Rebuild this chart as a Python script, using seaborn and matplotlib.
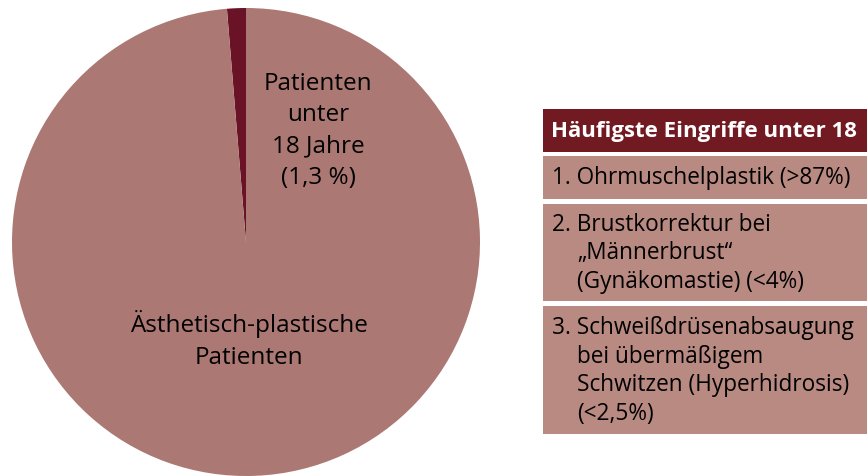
import matplotlib.pyplot as plt
import seaborn as sns
from matplotlib.patches import Rectangle

# data
slice_labels = ["Patienten\nunter\n18 Jahre\n(1,3 %)", "Ästhetisch-plastische\nPatienten"]
slice_values = [1.3, 98.7]
slice_colors = ["#6B1326", "#AB7874"]

box_title = "Häufigste Eingriffe unter 18"
box_items = [
    ["1. Ohrmuschelplastik (>87%)"],
    ["2. Brustkorrektur bei", "„Männerbrust“", "(Gynäkomastie) (<4%)"],
    ["3. Schweißdrüsenabsaugung", "bei übermäßigem", "Schwitzen (Hyperhidrosis)", "(<2,5%)"],
]

sns.set_theme(style="white")
plt.rcParams['font.family'] = ['Open Sans', 'DejaVu Sans']

W, H = 867, 477
fig = plt.figure(figsize=(W / 100, H / 100), dpi=100)
fig.patch.set_facecolor("white")

# pie
cx, cy, r = 246, 243, 234
ax = fig.add_axes([(cx - r) / W, (H - cy - r) / H, 2 * r / W, 2 * r / H])
ax.pie(slice_values, colors=slice_colors, startangle=90, counterclock=True,
       radius=1, wedgeprops=dict(linewidth=0))
ax.set_xlim(-1, 1)
ax.set_ylim(-1, 1)
ax.set_aspect("equal")
ax.axis("off")

# overlay in pixel coords
ov = fig.add_axes([0, 0, 1, 1])
ov.set_xlim(0, W)
ov.set_ylim(H, 0)
ov.axis("off")
ov.patch.set_alpha(0)

ov.text(318, 131, slice_labels[0], ha="center", va="center", fontsize=17.5,
        linespacing=1.42, color="black")
ov.text(249, 340, slice_labels[1], ha="center", va="center", fontsize=17.5,
        linespacing=1.42, color="black")

# side table
x0 = 543
ov.add_patch(Rectangle((x0, 110), W - x0, 43, color="#721A22", lw=0))
ov.text(551, 132, box_title, ha="left", va="center", fontsize=16,
        fontweight="bold", color="white")

box_tops = [157, 205, 307]
box_bottoms = [200, 302, 435]
line_h = 28.5
for items, top, bot in zip(box_items, box_tops, box_bottoms):
    ov.add_patch(Rectangle((x0, top), W - x0, bot - top, color="#B98A82", lw=0))
    n = len(items)
    start = (top + bot) / 2 - (n - 1) * line_h / 2
    for i, line in enumerate(items):
        xt = 552 if i == 0 else 577
        ov.text(xt, start + i * line_h, line, ha="left", va="center",
                fontsize=16.3, color="black")

fig.savefig("out.png", dpi=100)
